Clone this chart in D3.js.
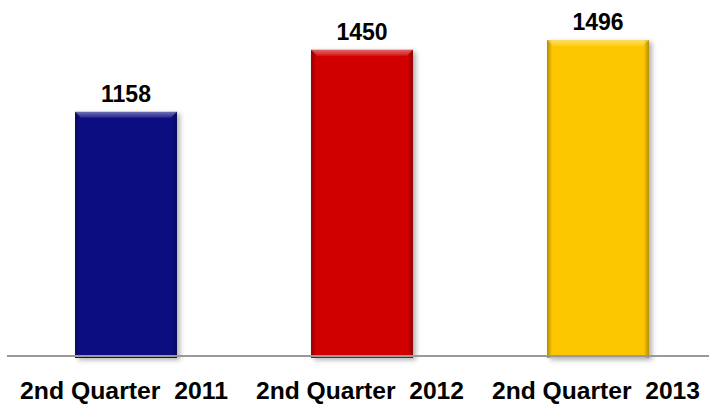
<!DOCTYPE html>
<html>
<head>
<meta charset="utf-8">
<script src="https://cdn.jsdelivr.net/npm/d3@7"></script>
<style>
  body { margin: 0; background: #fff; }
  text { font-family: "Liberation Sans", Arial, sans-serif; font-weight: bold; fill: #000; }
</style>
</head>
<body>
<div id="viz"></div>
<script>
const categories = ['2nd Quarter  2011', '2nd Quarter  2012', '2nd Quarter  2013'];
const values = [1158, 1450, 1496];
const barColors = ['#0c0c82', '#d00000', '#fdc700'];

const width = 709, height = 404;
const baseY = 358;

const svg = d3.select('#viz')
    .append('svg')
    .attr('width', width)
    .attr('height', height);

const defs = svg.append('defs');

// drop shadow for bars
const shadow = defs.append('filter')
    .attr('id', 'shadow')
    .attr('x', '-20%').attr('y', '-20%')
    .attr('width', '140%').attr('height', '140%');
shadow.append('feDropShadow')
    .attr('dx', 3).attr('dy', 2)
    .attr('stdDeviation', 2.5)
    .attr('flood-color', '#000')
    .attr('flood-opacity', 0.3);

// side darkening
const sideGrad = defs.append('linearGradient').attr('id', 'side');
sideGrad.append('stop').attr('offset', '0%').attr('stop-color', '#000').attr('stop-opacity', 0.3);
sideGrad.append('stop').attr('offset', '5%').attr('stop-color', '#000').attr('stop-opacity', 0);
sideGrad.append('stop').attr('offset', '95%').attr('stop-color', '#000').attr('stop-opacity', 0);
sideGrad.append('stop').attr('offset', '100%').attr('stop-color', '#000').attr('stop-opacity', 0.3);

// top highlight
const topGrad = defs.append('linearGradient').attr('id', 'topHi')
    .attr('x1', 0).attr('y1', 0).attr('x2', 0).attr('y2', 1);
topGrad.append('stop').attr('offset', '0%').attr('stop-color', '#fff').attr('stop-opacity', 0.4);
topGrad.append('stop').attr('offset', '100%').attr('stop-color', '#fff').attr('stop-opacity', 0.1);

const x = d3.scaleBand()
    .domain(categories)
    .range([8, 716])
    .paddingInner(0.568)
    .paddingOuter(0.284);

const y = d3.scaleLinear()
    .domain([0, 1496])
    .range([baseY, 40]);

const data = categories.map((c, i) => ({cat: c, value: values[i], color: barColors[i]}));

const bars = svg.selectAll('.bar-group')
    .data(data)
    .join('g')
    .attr('class', 'bar-group');

bars.append('rect')
    .attr('x', d => x(d.cat))
    .attr('y', d => y(d.value))
    .attr('width', x.bandwidth())
    .attr('height', d => baseY - y(d.value))
    .style('fill', d => d.color)
    .attr('filter', 'url(#shadow)');

bars.append('rect')
    .attr('x', d => x(d.cat))
    .attr('y', d => y(d.value))
    .attr('width', x.bandwidth())
    .attr('height', d => baseY - y(d.value))
    .style('fill', 'url(#side)');

// bevelled top strip
bars.append('path')
    .attr('d', d => {
        const x0 = x(d.cat), x1 = x0 + x.bandwidth(), t = y(d.value), b = 6;
        return `M${x0},${t}L${x1},${t}L${x1 - b},${t + b}L${x0 + b},${t + b}Z`;
    })
    .style('fill', 'url(#topHi)');

// baseline
svg.append('line')
    .attr('x1', 7).attr('x2', width)
    .attr('y1', 356).attr('y2', 356)
    .style('stroke', '#999')
    .style('stroke-width', 2);

// value labels
bars.append('text')
    .text(d => d.value)
    .attr('x', d => x(d.cat) + x.bandwidth() / 2)
    .attr('y', d => y(d.value) - 10)
    .attr('text-anchor', 'middle')
    .style('font-size', '23px');

// category labels
bars.append('text')
    .text(d => d.cat)
    .attr('x', d => x(d.cat) + x.bandwidth() / 2 - 2)
    .attr('y', 399)
    .attr('text-anchor', 'middle')
    .attr('textLength', 208)
    .attr('lengthAdjust', 'spacingAndGlyphs')
    .style('font-size', '24px')
    .style('white-space', 'pre');
</script>
</body>
</html>
